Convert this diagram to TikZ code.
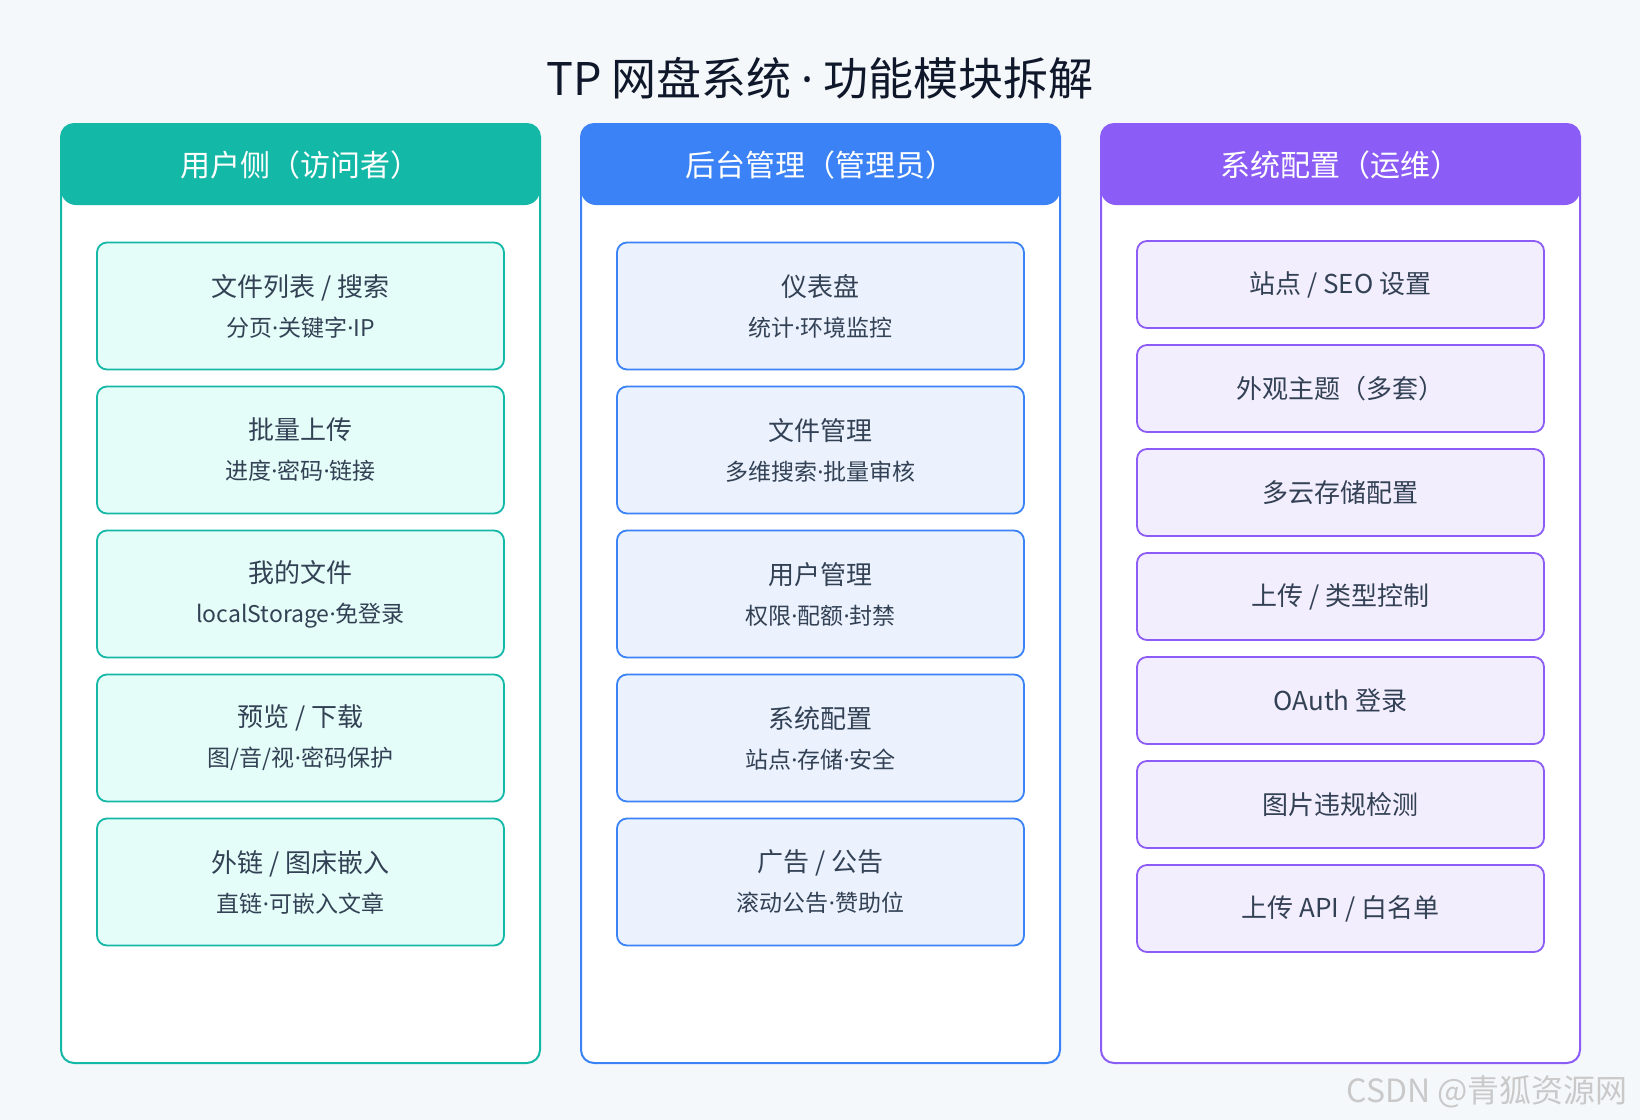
\documentclass[tikz,border=0pt]{standalone}
\usepackage{fontspec}
\setmainfont{Noto Sans CJK SC}
\newfontfamily\latf{Noto Sans}
\newcommand{\dt}{{\latf ·}}
\definecolor{bgc}{HTML}{F5F8FB}
\definecolor{cteal}{HTML}{14B8A6}
\definecolor{ctealf}{HTML}{E4FDF8}
\definecolor{cblue}{HTML}{3B82F6}
\definecolor{cbluef}{HTML}{EBF2FE}
\definecolor{cpurp}{HTML}{8B5CF6}
\definecolor{cpurpf}{HTML}{F3EEFE}
\definecolor{txt}{HTML}{334155}
\definecolor{ttl}{HTML}{0F172A}
\definecolor{wm}{HTML}{C9C9C9}
\tikzset{
  panel/.style={line width=1pt, fill=white, rounded corners=6.5pt},
  headbar/.style={rounded corners=7.5pt},
  headtext/.style={text=white, font=\fontsize{15}{18}\selectfont},
  card/.style={draw, line width=0.9pt, rounded corners=5pt, minimum width=203.5pt,
    minimum height=63.5pt, align=center, text=txt, inner sep=0pt,
    font=\fontsize{13}{20}\selectfont},
  scard/.style={draw, line width=0.9pt, rounded corners=5pt, minimum width=203.5pt,
    minimum height=43.5pt, align=center, text=txt, inner sep=0pt,
    font=\fontsize{13}{20}\selectfont}
}
\newcommand{\subl}[1]{{\fontsize{11.5}{20}\selectfont #1}}
\begin{document}
\begin{tikzpicture}[x=0.5pt,y=-0.5pt]
\fill[bgc] (0,0) rectangle (1640,1120);
\useasboundingbox (0,0) rectangle (1640,1120);

\node[text=ttl, font=\fontsize{22.5}{26}\selectfont] (title) at (820,78) {TP 网盘系统 \dt{} 功能模块拆解};

% panels
\draw[panel, draw=cteal] (61,124) rectangle (540,1063);
\fill[headbar, cteal] (61,124) rectangle (540,205);
\node[headtext] (h1) at (300.5,165) {用户侧（访问者）};

\draw[panel, draw=cblue] (581,124) rectangle (1060,1063);
\fill[headbar, cblue] (581,124) rectangle (1060,205);
\node[headtext] (h2) at (820.5,165) {后台管理（管理员）};

\draw[panel, draw=cpurp] (1101,124) rectangle (1580,1063);
\fill[headbar, cpurp] (1101,124) rectangle (1580,205);
\node[headtext] (h3) at (1340.5,165) {系统配置（运维）};

% column 1
\begin{scope}[every node/.append style={card, draw=cteal, fill=ctealf}]
\node (a1) at (300.5,306) {文件列表 / 搜索\\\subl{分页\dt 关键字\dt IP}};
\node (a2) at (300.5,450) {批量上传\\\subl{进度\dt 密码\dt 链接}};
\node (a3) at (300.5,594) {我的文件\\\subl{localStorage\dt 免登录}};
\node (a4) at (300.5,738) {预览 / 下载\\\subl{图/音/视\dt 密码保护}};
\node (a5) at (300.5,882) {外链 / 图床嵌入\\\subl{直链\dt 可嵌入文章}};
\end{scope}

% column 2
\begin{scope}[every node/.append style={card, draw=cblue, fill=cbluef}]
\node (b1) at (820.5,306) {仪表盘\\\subl{统计\dt 环境监控}};
\node (b2) at (820.5,450) {文件管理\\\subl{多维搜索\dt 批量审核}};
\node (b3) at (820.5,594) {用户管理\\\subl{权限\dt 配额\dt 封禁}};
\node (b4) at (820.5,738) {系统配置\\\subl{站点\dt 存储\dt 安全}};
\node (b5) at (820.5,882) {广告 / 公告\\\subl{滚动公告\dt 赞助位}};
\end{scope}

% column 3
\begin{scope}[every node/.append style={scard, draw=cpurp, fill=cpurpf}]
\node (c1) at (1340.5,284.5) {站点 / SEO 设置};
\node (c2) at (1340.5,388.5) {外观主题（多套）};
\node (c3) at (1340.5,492.5) {多云存储配置};
\node (c4) at (1340.5,596.5) {上传 / 类型控制};
\node (c5) at (1340.5,700.5) {OAuth 登录};
\node (c6) at (1340.5,804.5) {图片违规检测};
\node (c7) at (1340.5,908.5) {上传 API / 白名单};
\end{scope}

\node[text=wm, font=\fontsize{16}{18}\selectfont, anchor=east] (wmk) at (1635,1092) {CSDN @青狐资源网};
\end{tikzpicture}
\end{document}
